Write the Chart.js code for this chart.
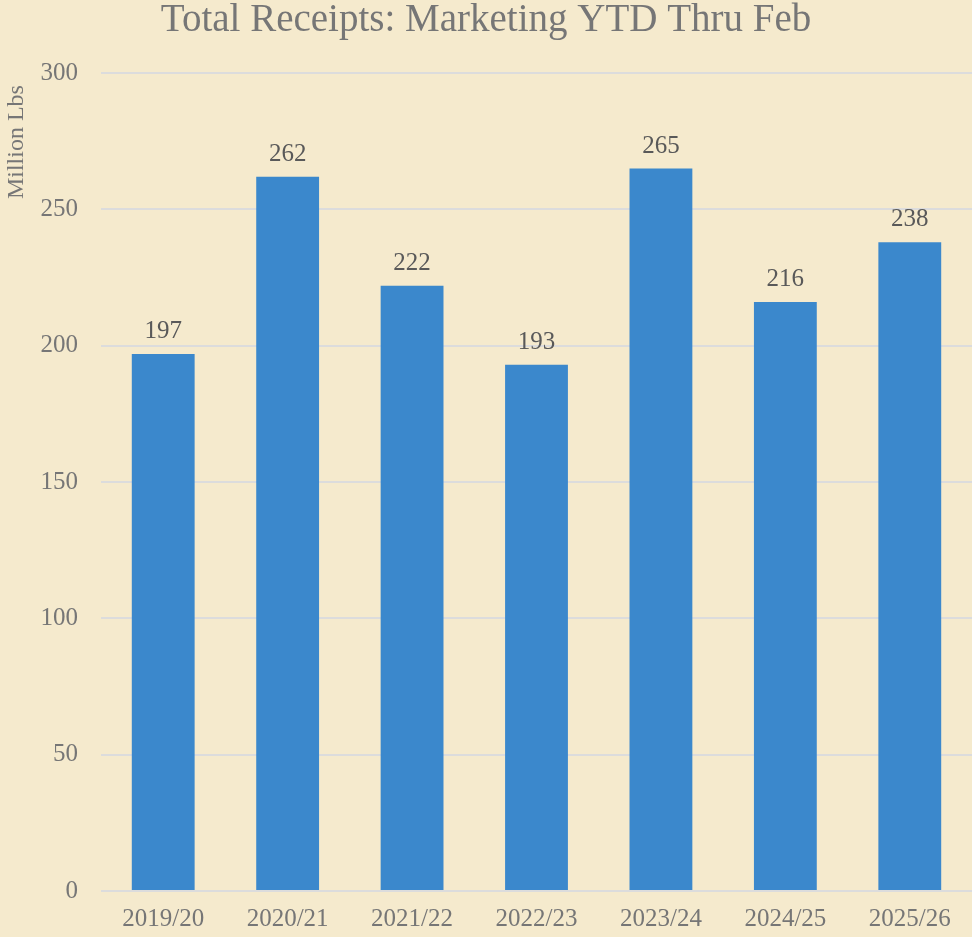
<script src="https://cdn.jsdelivr.net/npm/chart.js"></script>

<style>
  body { margin: 0; background: #f5eacd; }
</style>
<div style="width:972px; height:937px;">
    <canvas id="myChart"></canvas>
</div>

<script>
// Data
const seasons = ['2019/20', '2020/21', '2021/22', '2022/23', '2023/24', '2024/25', '2025/26'];
const receipts = [197, 262, 222, 193, 265, 216, 238];
const yTicks = [0, 50, 100, 150, 200, 250, 300];

const serif = "'Liberation Serif', 'Times New Roman', serif";

// paint the beige background behind everything
const background = {
  id: 'background',
  beforeDraw(chart) {
    const ctx = chart.ctx;
    ctx.save();
    ctx.fillStyle = '#f5eacd';
    ctx.fillRect(0, 0, chart.width, chart.height);
    ctx.restore();
  }
};

// value labels above each bar
const barLabels = {
  id: 'barLabels',
  afterDatasetsDraw(chart) {
    const ctx = chart.ctx;
    const meta = chart.getDatasetMeta(0);
    ctx.save();
    ctx.font = '25px ' + serif;
    ctx.fillStyle = '#595959';
    ctx.textAlign = 'center';
    ctx.textBaseline = 'alphabetic';
    meta.data.forEach(function(bar, i) {
      ctx.fillText(receipts[i], bar.x, bar.y - 16);
    });
    ctx.restore();
  }
};

const config = {
  type: 'bar',
  data: {
    labels: seasons,
    datasets: [{
      label: 'Total Receipts',
      data: receipts,
      backgroundColor: '#3b88cc',
      borderWidth: 0,
      categoryPercentage: 1,
      barPercentage: 0.505
    }]
  },
  options: {
    responsive: true,
    maintainAspectRatio: false,
    animation: false,
    layout: { padding: { top: 0, right: 0, bottom: 0, left: 0 } },
    plugins: {
      legend: { display: false },
      tooltip: { enabled: false },
      title: {
        display: true,
        text: 'Total Receipts: Marketing YTD Thru Feb',
        color: '#767676',
        font: { family: serif, size: 39, weight: 'normal', lineHeight: 0.9 },
        padding: { top: 3, bottom: 35 }
      }
    },
    scales: {
      x: {
        grid: { display: false, drawTicks: false },
        border: { display: false },
        ticks: {
          color: '#767676',
          font: { family: serif, size: 25 },
          padding: 13,
          maxRotation: 0
        },
        afterFit(scale) { scale.height = 46; }
      },
      y: {
        min: 0,
        max: 300,
        afterBuildTicks(scale) { scale.ticks = yTicks.map(v => ({ value: v })); },
        grid: { color: '#dcdcdc', lineWidth: 2, drawTicks: false },
        border: { display: false },
        ticks: {
          color: '#767676',
          font: { family: serif, size: 25 },
          padding: 23
        },
        title: {
          display: true,
          text: 'Million Lbs  ',
          align: 'end',
          color: '#767676',
          font: { family: serif, size: 24 },
          padding: { top: 2, bottom: 0 }
        },
        afterFit(scale) { scale.width = 101; }
      }
    }
  },
  plugins: [background, barLabels]
};

var myChart = new Chart(document.getElementById('myChart'), config);
</script>
